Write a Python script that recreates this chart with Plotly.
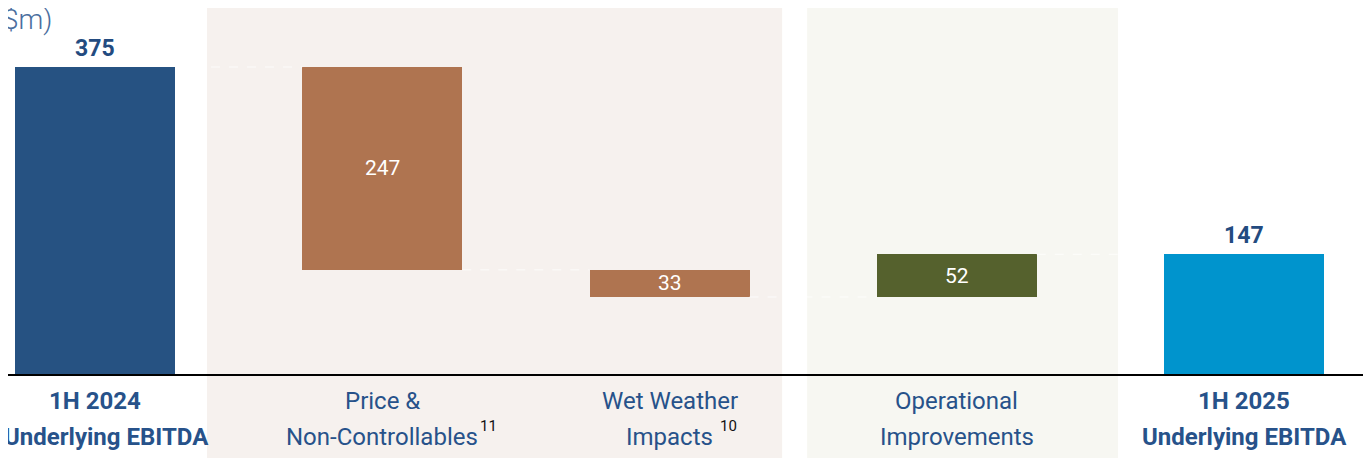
import plotly.graph_objects as go

categories = ["1H 2024 Underlying EBITDA", "Price & Non-Controllables", "Wet Weather Impacts",
              "Operational Improvements", "1H 2025 Underlying EBITDA"]
label_line1 = ["1H 2024", "Price &", "Wet Weather", "Operational", "1H 2025"]
label_line2 = ["Underlying EBITDA", "Non-Controllables", "Impacts", "Improvements", "Underlying EBITDA"]
footnotes = ["", "11", "10", "", ""]
values = [375, -247, -33, 52, 147]
kinds = ["total", "delta", "delta", "delta", "total"]
colors = ["#265282", "#AF7450", "#AF7450", "#55612D", "#0094CD"]

# compute bases/heights
bases, heights = [], []
running = 0
for v, k in zip(values, kinds):
    if k == "total":
        bases.append(0); heights.append(v); running = v
    else:
        if v < 0:
            bases.append(running + v); heights.append(-v)
        else:
            bases.append(running); heights.append(v)
        running += v

xs = list(range(len(values)))
BW = 0.557

fig = go.Figure()
fig.add_trace(go.Bar(x=xs, y=heights, base=bases, width=BW, marker_color=colors,
                     marker_line_width=0, hoverinfo="skip", showlegend=False))

# shaded regions
fig.add_shape(type="rect", xref="x", yref="paper", x0=0.39, x1=2.392, y0=0, y1=1,
              fillcolor="#F6F1EE", line_width=0, layer="below")
fig.add_shape(type="rect", xref="x", yref="paper", x0=2.479, x1=3.561, y0=0, y1=1,
              fillcolor="#F7F7F2", line_width=0, layer="below")

# connectors
for i in range(len(values) - 1):
    lvl = bases[i] + heights[i] if (kinds[i] == "total" or values[i] > 0) else bases[i]
    fig.add_shape(type="line", xref="x", yref="y", x0=i + BW / 2, x1=i + 1 - BW / 2, y0=lvl, y1=lvl,
                  line=dict(color="rgba(255,255,255,0.75)", width=1, dash="dash"), layer="above")

# value labels
for i, (v, k) in enumerate(zip(values, kinds)):
    if k == "total":
        fig.add_annotation(x=i, y=bases[i] + heights[i], text=f"<b>{abs(v)}</b>", showarrow=False,
                           yanchor="bottom", yshift=3, font=dict(family="Roboto", size=23, color="#234B80"))
    else:
        fig.add_annotation(x=i, y=bases[i] + heights[i] / 2, text=f"{abs(v)}", showarrow=False,
                           font=dict(family="Roboto", size=21, color="white"))

# category labels
for i in xs:
    bold = kinds[i] == "total"
    t1 = f"<b>{label_line1[i]}</b>" if bold else label_line1[i]
    t2 = f"<b>{label_line2[i]}</b>" if bold else label_line2[i]
    for t, yy, xs_ in ((t1, -32, 0), (t2, -75.5, 11 if i == 0 else 0)):
        fig.add_annotation(x=i, y=yy, text=t, showarrow=False, xshift=xs_,
                           font=dict(family="Roboto", size=24, color="#27528A"))
    if footnotes[i]:
        fig.add_annotation(x=i, y=-75.5, text=footnotes[i], showarrow=False, xanchor="left",
                           xshift=(96 if i == 1 else 48), yshift=11,
                           font=dict(family="Roboto", size=15, color="#111111"))

# unit label (partially cut off in reference)
fig.add_annotation(xref="paper", yref="paper", x=0.034, y=1 - 30 / 450, xanchor="right", yanchor="bottom",
                   text="($m)", showarrow=False,
                   font=dict(family="Roboto", size=28, color="#4A6E9E", weight=300))

# baseline
fig.add_shape(type="line", xref="paper", yref="y", x0=0, x1=1, y0=0, y1=0,
              line=dict(color="black", width=2), layer="above")

# page has an 8px body margin: figure is 1363x450 so it fills the 1371x458 window
fig.update_layout(
    width=1363, height=450, margin=dict(l=0, r=0, t=0, b=0),
    plot_bgcolor="white", paper_bgcolor="white", bargap=0,
    xaxis=dict(range=[-0.3029, 4.442], visible=False, fixedrange=True),
    yaxis=dict(range=[-101.06, 446.84], visible=False, fixedrange=True),
)
fig.write_html("out.html")
